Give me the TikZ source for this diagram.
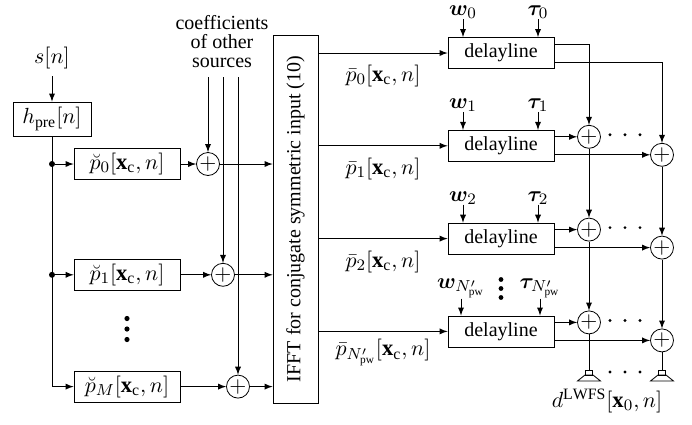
\documentclass[tikz,border=0pt]{standalone}
\usepackage{amsmath}
\usepackage{amssymb}
\usepackage{bm}
\usepackage{fontspec}
\setmainfont{Liberation Serif}
\usetikzlibrary{positioning,arrows}

\tikzset{
	blk/.style={draw,minimum width=53pt,minimum height=15.5pt,inner sep=2pt},
	txt/.style={font=\fontsize{10}{12}\selectfont},
	sum/.style={draw,circle,inner sep=0pt,minimum size=11.5pt},
	dot/.style={fill,circle,inner sep=0pt,minimum size=3pt},
	lbl/.style={inner sep=0pt},
	speaker/.pic={
		\draw (-3.5,0) rectangle (3.5,5);
		\draw (-4,5) -- (4,5) -- (11.5,11) -- (-11.5,11) -- cycle;
	}
}

\begin{document}
\begin{tikzpicture}[x=0.5pt,y=-0.5pt,>=latex,node distance=30.5pt,font=\fontsize{11.3}{13.5}\selectfont]
	\useasboundingbox (0,0) rectangle (692,424);
	% left part: prefilter and the per-source spectra
	\node (s) at (52,58) {$s[n]$};
	\node[blk,minimum width=39pt,minimum height=17pt] (hpre) at (52,119) {$h_{\mathrm{pre}}[n]$};
	\node[blk] (p0) at (127,164) {$\breve{p}_0[\mathbf{x}_{\mathrm{c}},n]$};
	\node[blk] (p1) [below=39.5pt of p0] {$\breve{p}_1[\mathbf{x}_{\mathrm{c}},n]$};
	\node[blk] (pM) [below=40pt of p1] {$\breve{p}_M[\mathbf{x}_{\mathrm{c}},n]$};
	\node[dot] (b0) at (hpre |- p0) {};
	\node[dot] (b1) at (hpre |- p1) {};
	\coordinate (vd) at (127,329);
	\foreach \k in {-1,0,1}
		\fill ([yshift=\k*5.25pt]vd) circle (1.3pt);
	
	\node[txt,align=center] (coef) at (222,42) {coefficients\\[-2.5pt] of other\\[-2.5pt] sources};
	\coordinate (c0) at (208,77);
	\coordinate (c1) at (223,77);
	\coordinate (c2) at (238,77);
	\node[sum] (sum0) at (c0 |- p0) {$+$};
	\node[sum] (sum1) at (c1 |- p1) {$+$};
	\node[sum] (sumM) at (c2 |- pM) {$+$};
	
	\node[txt,draw,rotate=90,minimum width=184pt,minimum height=22.5pt,inner sep=0pt] (ifft) at (295.5,219)
		{IFFT for conjugate symmetric input (10)};
	
	\draw[->] (s) -- (hpre);
	\draw[->] (hpre) |- (pM);
	\draw[->] (b0) -- (p0);
	\draw[->] (b1) -- (p1);
	\draw[->] (p0) -- (sum0);
	\draw[->] (p1) -- (sum1);
	\draw[->] (pM) -- (sumM);
	\draw[->] (c0) -- (sum0);
	\draw[->] (c1) -- (sum1);
	\draw[->] (c2) -- (sumM);
	\draw[->] (sum0) -- (sum0 -| ifft.north);
	\draw[->] (sum1) -- (sum1 -| ifft.north);
	\draw[->] (sumM) -- (sumM -| ifft.north);
	
	% right part: delaylines and loudspeaker sums
	\node[blk,txt] (d0) at (501,53) {delayline};
	\node[blk,txt] (d1) [below=of d0] {delayline};
	\node[blk,txt] (d2) [below=of d1] {delayline};
	\node[blk,txt] (dN) [below=of d2] {delayline};
	
	\node[lbl] (w0) at ([xshift=-19pt]d0.north) [above=9pt] {$\bm{w}_0$};
	\node[lbl] (t0) at ([xshift=18.5pt]d0.north) [above=9pt] {$\bm{\tau}_0$};
	\node[lbl] (w1) at ([xshift=-19pt]d1.north) [above=9pt] {$\bm{w}_1$};
	\node[lbl] (t1) at ([xshift=18.5pt]d1.north) [above=9pt] {$\bm{\tau}_1$};
	\node[lbl] (w2) at ([xshift=-19pt]d2.north) [above=9pt] {$\bm{w}_2$};
	\node[lbl] (t2) at ([xshift=18.5pt]d2.north) [above=9pt] {$\bm{\tau}_2$};
	\node[lbl] (wN) at ([xshift=-20pt]dN.north) [above=8.5pt] {$\bm{w}_{N'_{\mathrm{pw}}}$};
	\node[lbl] (tN) at ([xshift=19.5pt]dN.north) [above=8.5pt] {$\bm{\tau}_{N'_{\mathrm{pw}}}$};
	\coordinate (vd2) at ([yshift=13.5pt]dN.north);
	\foreach \k in {-1,0,1}
		\fill ([yshift=\k*4.5pt]vd2) circle (1.2pt);
	\foreach \a/\b in {w0/d0,t0/d0,w1/d1,t1/d1,w2/d2,t2/d2,wN/dN,tN/dN}
		\draw[->] (\a) -- (\a |- \b.north);
	
	\draw[->] (d0 -| ifft.south) -- node[below=2.5pt] {$\bar{p}_0[\mathbf{x}_{\mathrm{c}},n]$} (d0);
	\draw[->] (d1 -| ifft.south) -- node[below=2.5pt] {$\bar{p}_1[\mathbf{x}_{\mathrm{c}},n]$} (d1);
	\draw[->] (d2 -| ifft.south) -- node[below=2.5pt] {$\bar{p}_2[\mathbf{x}_{\mathrm{c}},n]$} (d2);
	\draw[->] (dN -| ifft.south) -- node[below=0.5pt] {$\bar{p}_{N'_{\mathrm{pw}}}[\mathbf{x}_{\mathrm{c}},n]$} (dN);
	
	\coordinate (colA) at (589,0);
	\coordinate (colB) at (662,0);
	\node[sum,yshift=4.5pt] (a1) at (colA |- d1) {$+$};
	\node[sum,yshift=4.5pt] (a2) at (colA |- d2) {$+$};
	\node[sum,yshift=4.5pt] (aN) at (colA |- dN) {$+$};
	\node[sum,yshift=-4.5pt] (e1) at (colB |- d1) {$+$};
	\node[sum,yshift=-4.5pt] (e2) at (colB |- d2) {$+$};
	\node[sum,yshift=-4.5pt] (eN) at (colB |- dN) {$+$};
	\coordinate (spkA) at (589,370);
	\coordinate (spkB) at (662,370);
	
	\draw[->] ([yshift=4.5pt]d0.east) -| (a1);
	\draw[->] ([yshift=-4.5pt]d0.east) -| (e1);
	\foreach \d/\a/\e in {d1/a1/e1,d2/a2/e2,dN/aN/eN} {
		\draw[->] (\d.east |- \a) -- (\a);
		\draw[->] (\d.east |- \e) -- (\e);
	}
	\draw[->] (a1) -- (a2);
	\draw[->] (a2) -- (aN);
	\draw (aN) -- (spkA);
	\draw[->] (e1) -- (e2);
	\draw[->] (e2) -- (eN);
	\draw (eN) -- (spkB);
	\pic at (spkA) {speaker};
	\pic at (spkB) {speaker};
	\foreach \r in {a1,a2,aN}
		\foreach \k in {0,1,2}
			\fill ([xshift=10.5pt+\k*7.5pt,yshift=1pt]\r) circle (0.8pt);
	\foreach \k in {0,1,2}
		\fill ([xshift=10.5pt+\k*7.5pt,yshift=-1pt]spkA) circle (0.8pt);
	
	\node (dl) at (607,401) {$d^{\mathrm{LWFS}}[\mathbf{x}_0,n]$};
\end{tikzpicture}
\end{document}
